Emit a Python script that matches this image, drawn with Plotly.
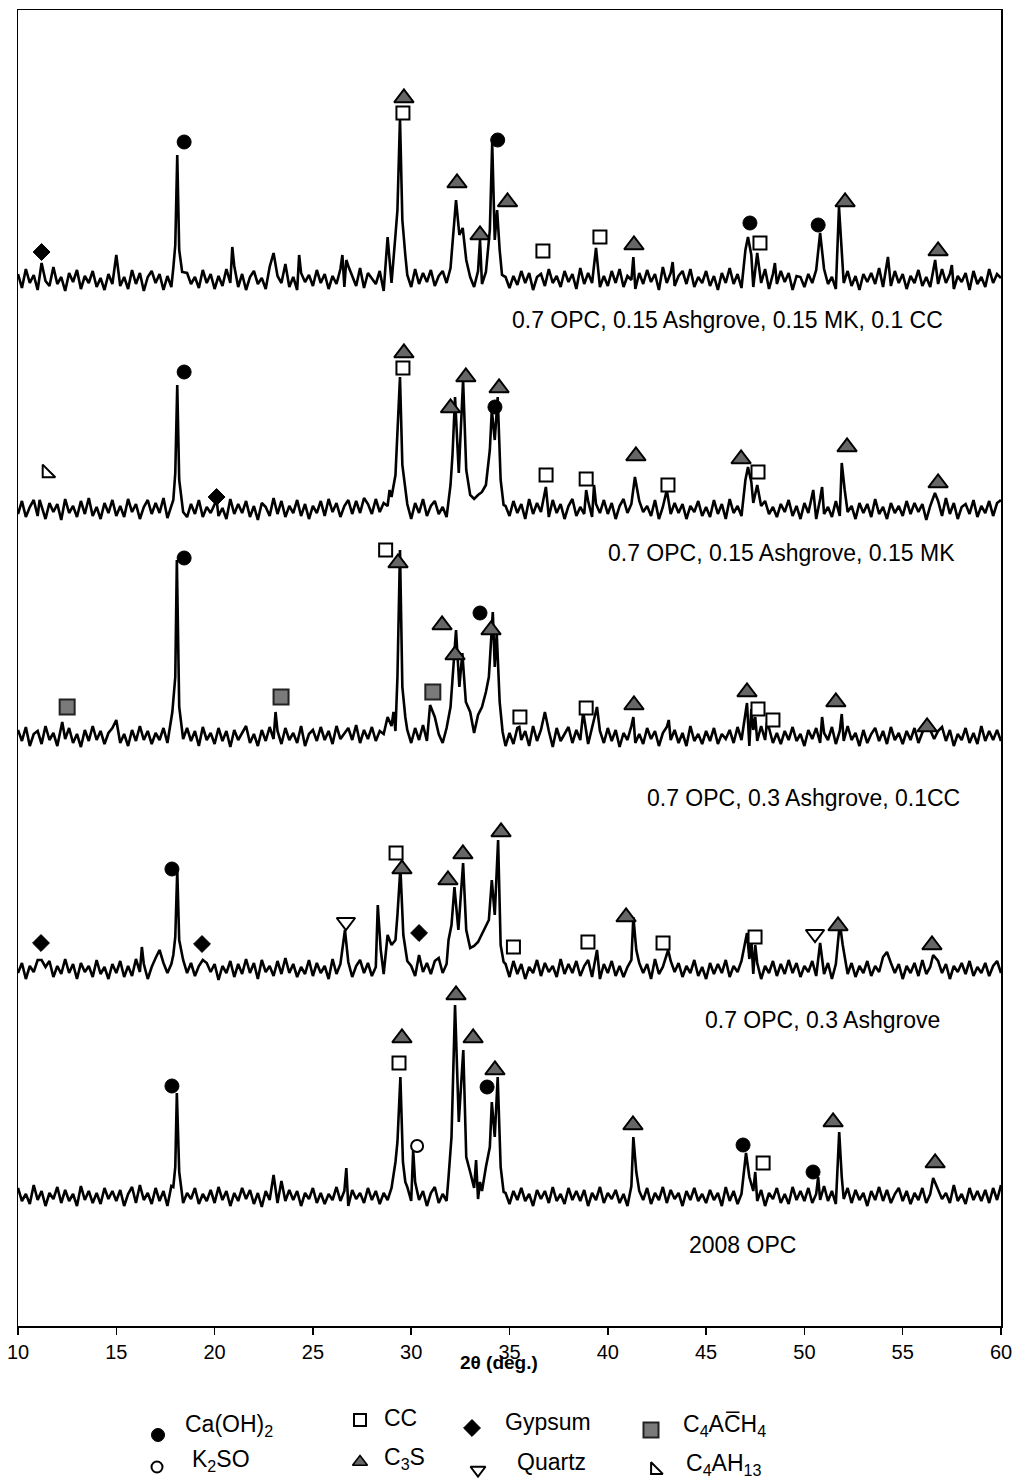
import plotly.graph_objects as go

# ---------------- data ----------------
X_START = 10.0
X_STEP = 0.2

sample_names = [
    "0.7 OPC, 0.15 Ashgrove, 0.15 MK, 0.1 CC",
    "0.7 OPC, 0.15 Ashgrove, 0.15 MK",
    "0.7 OPC, 0.3 Ashgrove, 0.1CC",
    "0.7 OPC, 0.3 Ashgrove",
    "2008 OPC",
]
offsets = [1046, 816, 589, 356, 129]

tick_vals = [10, 15, 20, 25, 30, 35, 40, 45, 50, 55, 60]

# baseline counts on a 0.2 deg grid (10.0 .. 60.0)
noise_mk_cc = [
    6,-8,11,-3,5,-10,8,-1,-6,13, -4,3,-11,7,-2,10,-9,4,-3,9, -7,2,-10,6,-4,
    14,-6,3,-9,10,-4,7,-11,3,9, -3,6,-10,4,-7,11,-2,-9,7,-4, 3,-8,10,-3,6,
    -9,4,-6,11,-3,14,-7,6,-10,3, 9,-4,2,-9,13,-6,4,-3,16,-7, 3,-10,7,-2,5,
    -6,10,-3,6,-9,4,-4,11,-7,14, 3,-6,12,-8,7,2,-4,9,-11,10, -3,6,-8,9,5,
    -7,11,-4,7,-2,10,-6,4,9,-3, 12,-4,6,-8,11,3,-7,9,-4,6, -2,10,-6,-11,3,
    -8,4,-5,9,-3,7,-10,3,6,-6, 11,-3,4,-7,9,-2,6,-9,12,-4, 7,-3,10,-7,4,
    -6,9,-3,11,-7,4,0,-9,7,-4, 10,-2,6,-10,13,-3,7,-6,4,9, -4,11,-7,3,-3,
    9,-6,4,-10,7,-3,12,-4,6,-8, 10,0,-7,4,-3,11,-9,6,-4,9, -2,7,-10,4,3,
    -7,6,-3,10,-6,11,-4,3,-9,7, -3,9,-6,4,-10,6,-2,7,-4,12, -7,3,-6,9,-3,
    6,-9,4,-3,10,-6,3,-7,9,-4, 11,-3,6,-9,4,-2,7,-10,9,-4, 3,-7,11,-3,6,
    2,
]
noise_mk = [
    -4,9,-7,3,10,-6,4,-9,7,-2, 6,-10,11,-3,4,-7,9,-4,12,-6, 3,-9,7,-3,10,
    -6,4,-7,11,-2,6,-9,3,10,-4, 7,-3,12,-8,4,-6,9,-2,-7,6, -4,10,-7,3,-3,
    7,-6,2,-9,11,-4,6,-3,9,-7, 4,-10,7,3,-6,12,-4,9,-7,4, -3,10,-6,6,-9,
    4,-3,9,-6,11,-2,7,-7,4,10, -4,9,-3,12,6,-4,11,-2,7,4, 13,-3,9,-4,6,
    -9,7,-3,11,-6,4,9,-4,3,-7, 10,-3,6,-7,9,-4,11,-2,-6,7, -3,9,-4,-10,4,
    -6,9,-3,6,-9,11,-4,7,-2,4, -7,10,-3,6,-9,4,11,-6,3,-4, 9,-7,6,-3,10,
    -4,7,-9,4,11,-3,6,-7,9,-2, 4,-6,10,-9,3,12,-4,7,-3,6, -9,4,-2,9,-6,
    3,-7,10,-4,6,-9,11,-3,4,-6, 9,-3,7,-10,4,9,-4,3,-7,6, -2,10,-6,4,-9,
    7,-3,6,-9,11,-4,3,-7,9,-6, 10,-2,4,-9,7,-3,6,-7,11,-4, 3,-9,7,-3,4,
    -6,9,-4,7,-2,6,-10,4,-3,9, -6,12,-4,7,-9,3,6,-4,10,-7, 4,-3,9,-6,7,
    10,
]
noise_ash_cc = [
    7,-4,10,-9,3,6,-7,11,-3,4, -9,6,-2,9,-6,3,-10,7,-4,11, -3,6,-7,4,9,
    16,-6,3,-9,7,-4,11,-3,6,-7, 4,-3,9,-6,12,-7,4,-2,9,-4, 6,-9,10,-3,4,
    -7,9,-4,6,-10,7,-3,4,11,-6, 3,-9,7,-4,10,-2,6,-7,9,-3, 4,-6,11,-9,3,
    7,-4,10,-3,6,-7,11,-2,4,9, -3,12,-6,7,-2,10,-4,6,3,-3, 11,6,-4,10,7,
    -6,9,-3,12,-4,7,11,3,-6,9, 4,-3,10,-2,7,-6,4,9,-3,11, 7,-4,9,3,-9,
    4,-7,9,-3,6,-9,11,-4,7,-2, 6,-10,9,-4,3,10,-6,7,-3,4, -7,9,-3,6,-6,
    9,-4,7,-10,4,-3,11,-6,3,-7, 9,-2,6,-9,4,10,-3,7,-6,4, -9,11,-4,3,-7,
    6,-4,9,-7,3,-2,7,-6,10,-3, 4,-9,7,-4,11,-3,9,-6,4,-7, 6,-3,10,-4,3,
    -9,7,-2,9,-6,4,-3,10,-7,6, -4,11,-3,4,-9,7,-6,3,9,-4, 6,-7,10,-3,4,
    -7,6,-3,9,-6,4,-10,7,-2,6, 10,-4,7,-9,3,-3,9,-6,4,-7, 11,-4,6,-3,7,
    -4,
]
noise_ash = [
    -3,7,-9,4,-2,10,-6,3,9,-7, 4,-4,11,-3,6,-9,7,-2,4,-7, 10,-4,3,-9,6,
    -3,9,-7,4,-6,11,-2,6,-9,3, 12,-4,7,-3,6,4,-7,10,-3,7, -6,4,-9,7,-2,
    6,-10,4,-3,9,-7,6,-4,11,-3, 7,-9,10,-2,4,-6,9,-4,12,-3, 6,-7,3,-4,10,
    -6,7,-3,4,-9,11,-4,6,-2,9, -7,4,10,-3,7,-6,3,9,-4,11, -2,6,15,-3,9,
    4,-6,10,-2,7,-4,9,12,-3,6, 10,-4,7,3,-6,11,4,-3,9,6, 12,7,15,-4,6,
    -7,9,-4,6,-9,3,-3,10,-6,7, -2,4,-7,11,-4,6,-3,9,-6,4, 10,-7,4,-9,6,
    -3,9,-6,4,-7,3,10,-4,7,-3, 6,-9,11,-4,3,-6,9,-2,7,-7, 4,-3,10,-6,3,
    -9,7,-4,6,-3,10,-7,4,-2,9, -6,11,-4,7,-9,4,-3,9,-6,6, -4,10,-3,7,-7,
    4,-2,9,-6,3,-4,7,-9,6,-3, 11,-4,7,-7,4,-3,9,-6,4,-2, 13,-4,7,-3,6,
    -9,4,-3,7,-6,10,-4,3,-7,9, -3,6,-9,4,-2,7,-4,9,-6,3, -3,7,-6,4,9,
    -3,
]
noise_opc = [
    9,-4,3,-7,12,-3,6,-9,4,-2, 10,-6,7,-4,3,-9,11,-3,6,-6, 4,-7,9,-2,6,
    -4,7,-9,3,10,-6,12,-3,4,-7, 9,-4,6,-9,11,-3,7,-6,4,-2, 9,-7,3,-4,7,
    -6,10,-3,6,-9,4,-4,9,-2,7, -7,4,-10,6,-3,11,-6,16,-4,7, -3,6,-9,4,-2,
    9,-6,4,-7,3,-3,10,-4,6,-9, 7,-2,4,-6,9,-3,6,-7,4,-3, 9,-4,6,-2,10,
    -4,7,-3,6,-9,4,10,-6,3,-4, 9,-3,7,-6,4,-7,9,-2,6,-4, 7,-3,10,-9,4,
    -7,6,-3,9,-4,3,-9,7,-2,6, -6,10,-4,3,-7,9,-3,6,-4,7, -9,4,-3,10,-6,
    4,-2,7,-6,3,-9,11,-4,6,-3, 9,-7,4,-3,10,-6,7,-2,4,-9, 6,-3,9,-4,3,
    -6,7,-3,4,-9,10,-4,6,-7,3, 9,-3,6,-4,7,-9,4,-2,9,-6, 3,-7,10,-3,6,
    -4,9,-6,3,-3,11,-4,6,-7,4, -2,9,-6,7,-3,4,-9,6,-3,10, -4,7,-6,3,9,
    -4,6,-7,4,-3,9,-6,3,-9,7, -2,4,-6,12,-4,3,-7,9,-3,6, -4,7,-6,9,-3,
    12,
]

# diffraction features (2theta, counts above baseline)
peaks_mk_cc = [
    (11.2, 17), (15.0, 25), (17.9, 12), (18.0, 35), (18.1, 125), (18.2, 30), (18.35, 8),
    (20.9, 33), (23.0, 27), (24.3, 25), (26.5, 25), (26.7, 20), (28.8, 43), (29.2, 45),
    (29.3, 70), (29.43, 162), (29.55, 60), (29.7, 25), (32.1, 35), (32.28, 80), (32.45, 45),
    (32.62, 52), (32.8, 20), (33.5, 40), (33.8, 8), (34.0, 50), (34.12, 137), (34.25, 40),
    (34.37, 70), (34.5, 30), (34.62, 5), (39.4, 32), (41.3, 23), (43.3, 18), (47.0, 30),
    (47.13, 43), (47.3, 25), (47.6, 27), (48.5, 17), (50.8, 47), (51.76, 73), (54.25, 23),
    (56.65, 20), (57.5, 15),
]
peaks_mk = [
    (11.1, 10), (17.9, 10), (18.0, 37), (18.1, 125), (18.2, 30), (20.1, 10), (28.9, 20),
    (29.2, 35), (29.3, 83), (29.43, 133), (29.55, 45), (29.7, 20), (32.0, 25), (32.1, 55),
    (32.23, 113), (32.42, 37), (32.64, 130), (32.8, 40), (33.0, 15), (33.4, 15), (33.6, 18),
    (33.8, 25), (34.0, 60), (34.1, 100), (34.25, 70), (34.4, 113), (34.55, 30), (34.7, 5),
    (36.85, 23), (38.9, 20), (39.3, 25), (41.38, 33), (43.0, 20), (47.0, 30), (47.13, 43),
    (47.3, 28), (47.6, 25), (50.45, 20), (50.9, 23), (51.9, 47), (52.05, 20), (56.64, 17),
]
peaks_ash_cc = [
    (12.25, 15), (15.0, 17), (17.85, 25), (18.0, 60), (18.08, 177), (18.2, 30), (18.3, 15),
    (23.1, 25), (28.8, 20), (29.1, 25), (29.3, 60), (29.43, 187), (29.55, 50), (29.7, 20),
    (30.96, 32), (31.2, 20), (32.0, 30), (32.1, 55), (32.28, 107), (32.45, 50), (32.6, 84),
    (32.78, 35), (33.0, 25), (33.4, 22), (33.6, 30), (33.8, 45), (33.95, 60), (34.15, 125),
    (34.25, 70), (34.35, 104), (34.5, 35), (34.65, 5), (35.5, 10), (36.8, 25), (38.75, 25),
    (39.45, 30), (41.3, 20), (43.1, 17), (47.0, 25), (47.08, 34), (47.3, 28), (47.5, 20),
    (48.1, 15), (50.9, 20), (51.9, 23), (56.2, 15),
]
peaks_ash = [
    (11.2, 10), (16.3, 23), (17.2, 20), (17.9, 15), (18.0, 33), (18.1, 100), (18.2, 30),
    (19.4, 10), (26.63, 40), (26.8, 8), (28.3, 65), (28.45, 20), (28.8, 35), (29.0, 25),
    (29.2, 30), (29.3, 55), (29.45, 102), (29.6, 35), (30.4, 15), (31.9, 30), (32.05, 45),
    (32.2, 83), (32.4, 40), (32.64, 107), (32.8, 40), (33.0, 22), (33.2, 24), (33.4, 28),
    (33.6, 36), (33.8, 44), (33.95, 50), (34.1, 90), (34.25, 55), (34.42, 130), (34.55, 25),
    (34.7, 8), (39.45, 20), (41.3, 53), (41.45, 20), (43.07, 20), (47.0, 30), (47.08, 37),
    (47.3, 30), (47.5, 25), (50.8, 27), (51.8, 47), (51.95, 25), (54.2, 18), (56.55, 15),
]
peaks_opc = [
    (17.9, 10), (18.0, 30), (18.08, 104), (18.2, 25), (23.0, 22), (26.7, 29), (29.2, 35),
    (29.3, 55), (29.45, 120), (29.58, 35), (29.7, 15), (30.1, 47), (30.2, 15), (31.9, 20),
    (32.05, 60), (32.23, 192), (32.42, 75), (32.65, 147), (32.8, 40), (33.0, 25), (33.3, 37),
    (33.5, 15), (33.8, 30), (34.0, 50), (34.1, 95), (34.25, 60), (34.4, 120), (34.55, 30),
    (34.7, 5), (41.3, 60), (41.45, 25), (47.03, 44), (47.2, 20), (47.5, 25), (50.7, 20),
    (51.77, 65), (51.9, 20), (56.55, 19),
]

noise_sets = [noise_mk_cc, noise_mk, noise_ash_cc, noise_ash, noise_opc]
peak_sets = [peaks_mk_cc, peaks_mk, peaks_ash_cc, peaks_ash, peaks_opc]

# phase identification marks: (pattern index, 2theta, counts above baseline)
phase_ca_oh2 = [(0, 18.45, 138), (0, 34.4, 140), (0, 47.23, 57), (0, 50.7, 55), (1, 18.45, 138),
                (1, 34.26, 103), (2, 18.45, 179), (2, 33.5, 124), (3, 17.83, 101), (4, 17.83, 111),
                (4, 33.86, 110), (4, 46.88, 52), (4, 50.44, 25)]
phase_cc = [(0, 29.58, 167), (0, 36.7, 29), (0, 39.6, 43), (0, 47.74, 37), (1, 29.58, 142),
            (1, 36.86, 35), (1, 38.9, 31), (1, 43.06, 25), (1, 47.64, 38), (2, 28.7, 187),
            (2, 35.53, 20), (2, 38.9, 29), (2, 47.64, 28), (2, 48.4, 17), (3, 29.23, 117),
            (3, 35.2, 23), (3, 38.99, 28), (3, 42.81, 27), (3, 47.49, 33), (4, 29.38, 134),
            (4, 47.9, 34)]
phase_c3s = [(0, 29.63, 182), (0, 32.33, 97), (0, 33.5, 45), (0, 34.9, 78), (0, 41.33, 35),
             (0, 52.07, 78), (0, 56.8, 29), (1, 29.63, 157), (1, 32.0, 102), (1, 32.78, 133),
             (1, 34.47, 122), (1, 41.43, 54), (1, 46.78, 51), (1, 52.17, 63), (1, 56.8, 27),
             (2, 29.33, 174), (2, 31.57, 112), (2, 32.23, 82), (2, 34.06, 107), (2, 41.33, 32),
             (2, 47.08, 45), (2, 51.6, 35), (2, 56.24, 10), (3, 29.53, 101), (3, 31.87, 90),
             (3, 32.63, 116), (3, 34.57, 138), (3, 40.93, 53), (3, 51.71, 44), (3, 56.49, 25),
             (4, 29.53, 159), (4, 32.28, 202), (4, 33.15, 159), (4, 34.26, 127), (4, 41.28, 72),
             (4, 51.46, 75), (4, 56.65, 34)]
phase_gypsum = [(0, 11.2, 28), (1, 20.1, 13), (3, 11.17, 27), (3, 19.36, 26), (3, 30.4, 37)]
phase_quartz = [(3, 26.68, 48), (3, 50.54, 36)]
phase_c4ach4 = [(2, 12.5, 30), (2, 23.38, 40), (2, 31.1, 45)]
phase_c4ah13 = [(1, 11.47, 37)]
phase_k2so = [(4, 30.3, 51)]

# ---------------- styles / layout constants ----------------
FONT = "Liberation Sans, Arial, Helvetica, sans-serif"
TRI_FILL = "#666666"
phase_styles = [
    (phase_ca_oh2, dict(symbol="circle", size=14, color="black", line=dict(color="black", width=1))),
    (phase_cc, dict(symbol="square", size=13, color="white", line=dict(color="black", width=2))),
    (phase_c3s, dict(symbol="triangle-up", size=17, color=TRI_FILL, line=dict(color="black", width=2))),
    (phase_gypsum, dict(symbol="diamond", size=13, color="black", line=dict(color="black", width=1))),
    (phase_quartz, dict(symbol="triangle-down", size=16, color="white", line=dict(color="black", width=2))),
    (phase_c4ach4, dict(symbol="square", size=15, color="#7a7a7a", line=dict(color="#222222", width=2))),
    (phase_c4ah13, dict(symbol="triangle-sw", size=14, color="white", line=dict(color="black", width=2))),
    (phase_k2so, dict(symbol="circle", size=12, color="white", line=dict(color="black", width=2))),
]

label_pos = [(46.11, 1006), (48.86, 773), (49.93, 528), (50.9, 306), (46.83, 81)]

# page geometry (body margin removed in post_script, figure fills the window)
FIG_W, FIG_H = 1016, 1484
M_L, M_R, M_T, M_B = 18, 15, 10, 0
PLOT_BOTTOM_PAGE = FIG_H - M_B          # 1484
PLOT_TOP_PAGE = M_T                     # 10
AXIS_PAGE_Y = 1326
PLOT_H = PLOT_BOTTOM_PAGE - PLOT_TOP_PAGE


def build(noise, peaks, offset):
    peak_x = [p[0] for p in peaks]
    pts = []
    for i, v in enumerate(noise):
        x = round(X_START + X_STEP * i, 3)
        if all(abs(x - p) >= 0.09 for p in peak_x):
            pts.append((x, v))
    pts += list(peaks)
    pts.sort()
    return [p[0] for p in pts], [offset + p[1] for p in pts]


fig = go.Figure()

for k in range(len(sample_names)):
    xs, ys = build(noise_sets[k], peak_sets[k], offsets[k])
    fig.add_trace(go.Scatter(x=xs, y=ys, mode="lines", name=sample_names[k],
                             line=dict(color="black", width=2.6), hoverinfo="skip",
                             showlegend=False, xaxis="x", yaxis="y"))

for marks, style in phase_styles:
    fig.add_trace(go.Scatter(
        x=[m[1] for m in marks], y=[offsets[m[0]] + m[2] for m in marks],
        mode="markers", marker=style, hoverinfo="skip", showlegend=False,
        xaxis="x", yaxis="y"))

annotations = []
for k, name in enumerate(sample_names):
    annotations.append(dict(x=label_pos[k][0], y=label_pos[k][1], xref="x", yref="y",
                            text=name, showarrow=False, xanchor="center", yanchor="middle",
                            font=dict(family=FONT, size=23, color="black")))

annotations.append(dict(x=499, y=1362, xref="x2", yref="y2", text="<b>2θ (deg.)</b>",
                        showarrow=False, xanchor="center", yanchor="middle",
                        font=dict(family=FONT, size=19, color="black")))

# legend (pixel-like overlay axes)
legend_marks = [
    (158, 1435, dict(symbol="circle", size=13, color="black", line=dict(color="black", width=1))),
    (360, 1420, dict(symbol="square", size=12, color="white", line=dict(color="black", width=2))),
    (472, 1428, dict(symbol="diamond", size=13, color="black", line=dict(color="black", width=1))),
    (651, 1430, dict(symbol="square", size=15, color="#7a7a7a", line=dict(color="#222222", width=2))),
    (157, 1467, dict(symbol="circle", size=11, color="white", line=dict(color="black", width=2))),
    (360, 1462, dict(symbol="triangle-up", size=13, color=TRI_FILL, line=dict(color="black", width=1.5))),
    (478, 1470, dict(symbol="triangle-down", size=13, color="white", line=dict(color="black", width=2))),
    (655, 1470, dict(symbol="triangle-sw", size=13, color="white", line=dict(color="black", width=2))),
]
for lx, ly, st in legend_marks:
    fig.add_trace(go.Scatter(x=[lx], y=[ly], mode="markers", marker=st, hoverinfo="skip",
                             showlegend=False, xaxis="x2", yaxis="y2"))

legend_texts = [
    (183, 1425, "Ca(OH)<sub>2</sub>"),
    (382, 1418, "CC"),
    (503, 1422, "Gypsum"),
    (681, 1425, "C<sub>4</sub>AC\u0305H<sub>4</sub>"),
    (190, 1460, "K<sub>2</sub>SO"),
    (382, 1458, "C<sub>3</sub>S"),
    (515, 1462, "Quartz"),
    (684, 1464, "C<sub>4</sub>AH<sub>13</sub>"),
]
for tx, ty, tt in legend_texts:
    annotations.append(dict(x=tx, y=ty, xref="x2", yref="y2", text=tt, showarrow=False,
                            xanchor="left", yanchor="middle",
                            font=dict(family=FONT, size=23, color="black")))

fig.update_layout(
    width=FIG_W, height=FIG_H,
    margin=dict(l=M_L, r=M_R, t=M_T, b=M_B),
    paper_bgcolor="white", plot_bgcolor="rgba(0,0,0,0)",
    showlegend=False,
    xaxis=dict(range=[10, 60], domain=[0, 1], anchor="y", tickmode="array", tickvals=tick_vals,
               ticktext=[str(v) for v in tick_vals], ticks="outside", ticklen=7, tickwidth=1.5,
               tickcolor="black", showline=True, linecolor="black", linewidth=1.5, mirror=True,
               showgrid=False, zeroline=False, ticklabeloverflow="allow",
               tickfont=dict(family=FONT, size=20, color="black")),
    yaxis=dict(range=[0, AXIS_PAGE_Y - PLOT_TOP_PAGE],
               domain=[(PLOT_BOTTOM_PAGE - AXIS_PAGE_Y) / PLOT_H, 1], anchor="x",
               showticklabels=False, ticks="", showline=True, linecolor="black", linewidth=1.5,
               mirror=True, showgrid=False, zeroline=False),
    xaxis2=dict(range=[18, 1001], domain=[0, 1], anchor="y2", visible=False),
    yaxis2=dict(range=[PLOT_BOTTOM_PAGE, PLOT_TOP_PAGE], domain=[0, 1], anchor="x2", visible=False),
    annotations=annotations,
)

fig.write_html(
    "out.html",
    config={"displayModeBar": False, "staticPlot": True},
    post_script=("document.body.style.margin='0px';"
                 "document.body.style.padding='0px';"
                 "document.documentElement.style.overflow='hidden';"),
)
